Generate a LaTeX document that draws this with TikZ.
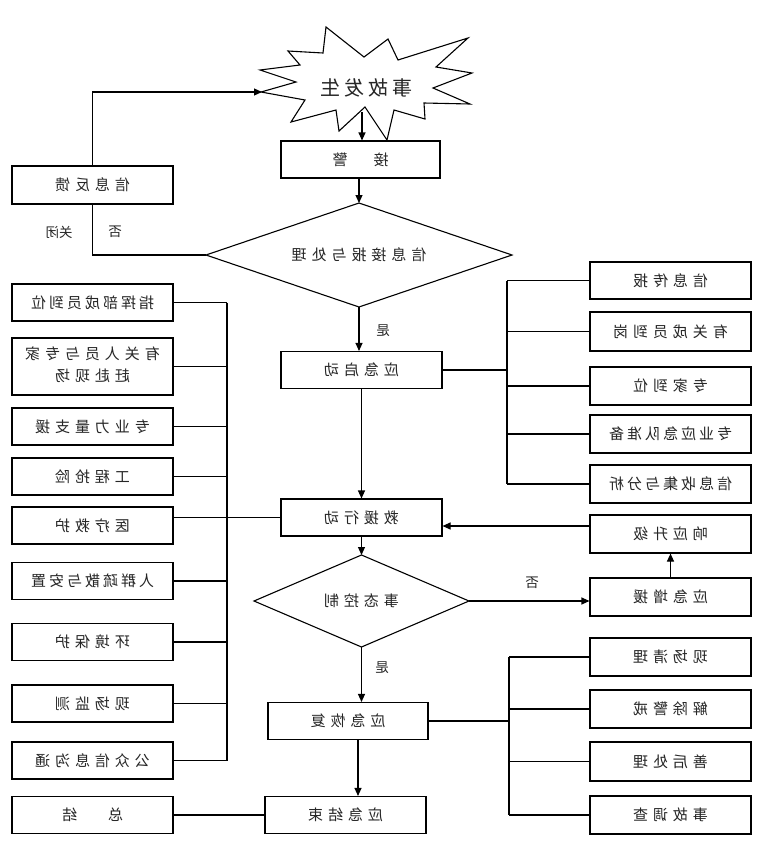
\documentclass[tikz,border=0pt]{standalone}
\usepackage{fontspec}
\usepackage{graphicx}
\setmainfont{Noto Sans CJK SC}
\usetikzlibrary{arrows.meta}
\newcommand{\mt}[1]{\reflectbox{#1}}
\newcommand{\tfa}{\fontsize{15}{18}\selectfont\addfontfeatures{LetterSpace=33}}
\newcommand{\tfb}{\fontsize{15}{18}\selectfont\addfontfeatures{LetterSpace=20}}
\begin{document}
\begin{tikzpicture}[x=1pt,y=-1pt,
  box/.style={draw, line width=1.1pt, minimum width=161pt, minimum height=37pt, inner sep=0pt, font=\tfa, text=black!85},
  boxn/.style={box, font=\tfb},
  dtext/.style={inner sep=0pt, font=\tfa, text=black!85},
  ln/.style={line width=1.1pt},
  arr/.style={line width=1.1pt, -{Triangle[length=8pt,width=7pt]}},
  lbl/.style={font=\fontsize{13.5}{15}\selectfont, text=black!85, inner sep=0pt}]
\useasboundingbox[fill=white] (0,0) rectangle (768,846);

% star
\draw[line width=1.1pt, fill=white] (326,27) -- (364,57) -- (388,39) -- (398,60) -- (468,38) -- (436,67) -- (472,73) -- (433,88) -- (470,104) -- (424,103) -- (425,119) -- (394,110) -- (387,140) -- (365,107) -- (339,131) -- (336,110) -- (291,122) -- (305,100) -- (261,92) -- (296,82) -- (260,70) -- (300,65) -- (288,51) -- (323,53) -- cycle;
\node[font=\fontsize{20}{24}\selectfont\addfontfeatures{LetterSpace=20}, text=black!85] (star) at (366,88) {\mt{事故发生}};
\coordinate (starL) at (262,92);
\coordinate (starB) at (362,112);

% diamonds (drawn as outlines, text nodes at centre)
\coordinate (d1n) at (359,203);
\coordinate (d1e) at (512,255);
\coordinate (d1s) at (359,307);
\coordinate (d1w) at (206,255);
\draw[ln] (d1n) -- (d1e) -- (d1s) -- (d1w) -- cycle;
\node[dtext] (d1) at (359,255) {\mt{信息接报与处理}};

\coordinate (d2n) at (361.5,555);
\coordinate (d2e) at (469,601);
\coordinate (d2s) at (361.5,647);
\coordinate (d2w) at (254,601);
\draw[ln] (d2n) -- (d2e) -- (d2s) -- (d2w) -- cycle;
\node[dtext] (d2) at (361.5,601) {\mt{事态控制}};

% main column
\node[box, minimum width=159pt] (jj) at (360.5,159.5) {\mt{接\hspace{26pt}警}};
\node[box] (yjqd) at (361.5,370) {\mt{应急启动}};
\node[box] (jyxd) at (361.5,517.5) {\mt{救援行动}};
\node[box, minimum width=160pt] (yjhf) at (348,721) {\mt{应急恢复}};
\node[box] (yjjs) at (345.5,815) {\mt{应急结束}};

% left column
\node[box, minimum height=38pt] (xxfk) at (92.5,185) {\mt{信息反馈}};
\node[boxn] (L1) at (92.5,302.5) {\mt{指挥部成员到位}};
\node[box, minimum height=57pt] (L2) at (92.5,366.5) {\mt{\begin{tabular}{@{}c@{}}有关人员与专家\\[4pt]赶赴现场\end{tabular}}};
\node[box] (L3) at (92.5,426.5) {\mt{专业力量支援}};
\node[box] (L4) at (92.5,476.5) {\mt{工程抢险}};
\node[box] (L5) at (92.5,525.5) {\mt{医疗救护}};
\node[boxn] (L6) at (92.5,581) {\mt{人群疏散与安置}};
\node[box] (L7) at (92.5,642) {\mt{环境保护}};
\node[box] (L8) at (92.5,703.5) {\mt{现场监测}};
\node[box] (L9) at (92.5,760.5) {\mt{公众信息沟通}};
\node[box] (zj) at (92.5,815) {\mt{总\hspace{31pt}结}};

% right column
\node[box] (R1) at (670.5,280.5) {\mt{信息传报}};
\node[box, minimum height=39pt] (R2) at (670.5,331.5) {\mt{有关成员到岗}};
\node[box, minimum height=38pt] (R3) at (670.5,386) {\mt{专家到位}};
\node[boxn, minimum height=38pt] (R4) at (670.5,434) {\mt{专业应急队准备}};
\node[boxn, minimum height=38pt] (R5) at (670.5,484) {\mt{信息收集与分析}};
\node[box, minimum height=38pt] (xysj) at (670.5,534) {\mt{响应升级}};
\node[box, minimum height=38pt] (yjzy) at (670.5,597) {\mt{应急增援}};
\node[box, minimum height=38pt] (R6) at (670.5,657) {\mt{现场清理}};
\node[box, minimum height=38pt] (R7) at (670.5,709) {\mt{解除警戒}};
\node[box, minimum height=39pt] (R8) at (670.5,761.5) {\mt{善后处理}};
\node[box, minimum height=38pt] (R9) at (670.5,815) {\mt{事故调查}};

% bus coordinates
\coordinate (lb) at (227,0);
\coordinate (rb1) at (507,0);
\coordinate (rb2) at (509,0);

% main flow
\draw[arr] (starB) -- (starB |- jj.north);
\draw[arr] (jj.south -| d1n) -- (d1n);
\draw[arr] (d1s) -- (d1s |- yjqd.north);
\draw[arr] (yjqd.south) -- (jyxd.north);
\draw[arr] (jyxd.south) -- (d2n);
\draw[arr] (d2s) -- (d2s |- yjhf.north);
\coordinate (hfs) at ([xshift=10pt]yjhf.south);
\draw[arr] (hfs) -- (hfs |- yjjs.north);
\draw[arr] (d2e) -- (d2e -| yjzy.west);
\draw[arr] (yjzy.north) -- (xysj.south);
\coordinate (xa) at ([yshift=8pt]xysj.west);
\draw[arr] (xa) -- (xa -| jyxd.east);

% feedback loop
\draw[ln] (d1w) -| (xxfk.south);
\draw[arr] (xxfk.north) |- (starL);

% left bus
\draw[ln] (L1.east -| lb) -- (L9.east -| lb);
\foreach \n in {L1,L2,L3,L4,L6,L7,L8,L9} \draw[ln] (\n.east) -- (\n.east -| lb);
\draw[ln] (jyxd.west) -- (jyxd.west -| L5.east);
\draw[ln] (yjjs.west) -- (yjjs.west -| zj.east);

% right bus 1
\draw[ln] (R1.west -| rb1) -- (R5.west -| rb1);
\foreach \n in {R1,R2,R3,R4,R5} \draw[ln] (\n.west) -- (\n.west -| rb1);
\draw[ln] (yjqd.east) -- (yjqd.east -| rb1);

% right bus 2
\draw[ln] (R6.west -| rb2) -- (R9.west -| rb2);
\foreach \n in {R6,R7,R8,R9} \draw[ln] (\n.west) -- (\n.west -| rb2);
\draw[ln] (yjhf.east) -- (yjhf.east -| rb2);

% labels
\node[lbl] (shi1) at (383,331) {\mt{是}};
\node[lbl] (shi2) at (382,668) {\mt{是}};
\node[lbl] (fou2) at (532,583) {\mt{否}};
\node[lbl] (guanbi) at (59,232) {\mt{关闭}};
\node[lbl] (fou1) at (115,232) {\mt{否}};
\end{tikzpicture}
\end{document}
